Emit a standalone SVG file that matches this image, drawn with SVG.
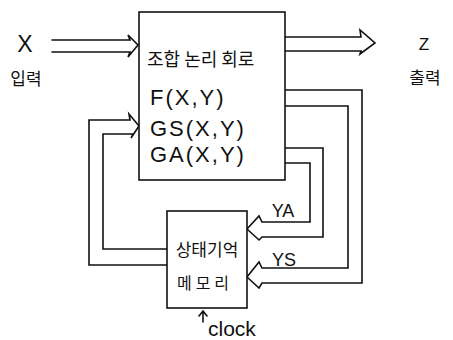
<svg xmlns="http://www.w3.org/2000/svg" width="453" height="340" viewBox="0 0 453 340">
<style>
.ln{fill:none;stroke:#111;stroke-width:1.6;stroke-linejoin:miter;stroke-linecap:round}
.bx{fill:#fff;stroke:#111;stroke-width:1.6}
.t{font-family:"Liberation Sans","Noto Sans CJK KR",sans-serif;fill:#111}
.k{font-family:"Noto Sans CJK KR","Liberation Sans",sans-serif;fill:#111}
</style>
<rect width="453" height="340" fill="#fff"/>
<g id="connectors">
<path class="ln" d="M52,40 H130 L128,35 L138,45 L128,57 L130,52 H52"/>
<path class="ln" d="M285,37 H361 L360,30 L375,43 L360,54 L361,51 H285"/>
<path class="ln" d="M167,249 H103 V134 H133 L131,138 L139,126 L129,114 L130,120 H89 V265 H167"/>
<path class="ln" d="M285,163 H310 V222 H262 L259,216 L247,229 L259,240 L262,237 H323 V148 H285"/>
<path class="ln" d="M285,106 H348 V268 H262 L259,262 L247,277 L259,288 L262,283 H362 V90 H285"/>
<path class="ln" d="M203,322 V311 M199,316 L203,311 L207,316"/>
</g>
<g id="input">
<text class="t" x="25" y="52" font-size="23" text-anchor="middle">X</text>
<text class="k" x="26" y="85" font-size="17" text-anchor="middle">입력</text>
</g>
<g id="output">
<text class="t" x="424" y="50" font-size="17" text-anchor="middle">Z</text>
<text class="k" x="425" y="84" font-size="17" text-anchor="middle">출력</text>
</g>
<g id="logic">
<rect class="bx" x="139" y="12" width="146" height="168"/>
<text class="k" x="147" y="66" font-size="18">조합 논리 회로</text>
<text class="t" x="150" y="105" font-size="22" letter-spacing="2">F(X,Y)</text>
<text class="t" x="150" y="136" font-size="22" letter-spacing="2">GS(X,Y)</text>
<text class="t" x="150" y="162" font-size="22" letter-spacing="2">GA(X,Y)</text>
</g>
<g id="memory">
<rect class="bx" x="167" y="211" width="80" height="97"/>
<text class="k" x="207" y="256" font-size="17" text-anchor="middle">상태기억</text>
<text class="k" x="205" y="289" font-size="16" text-anchor="middle" letter-spacing="4">메모리</text>
</g>
<g id="labels">
<text class="t" x="283" y="217" font-size="18" text-anchor="middle">YA</text>
<text class="t" x="284" y="266" font-size="18" text-anchor="middle">YS</text>
<text class="t" x="208" y="336" font-size="21">clock</text>
</g>
</svg>
